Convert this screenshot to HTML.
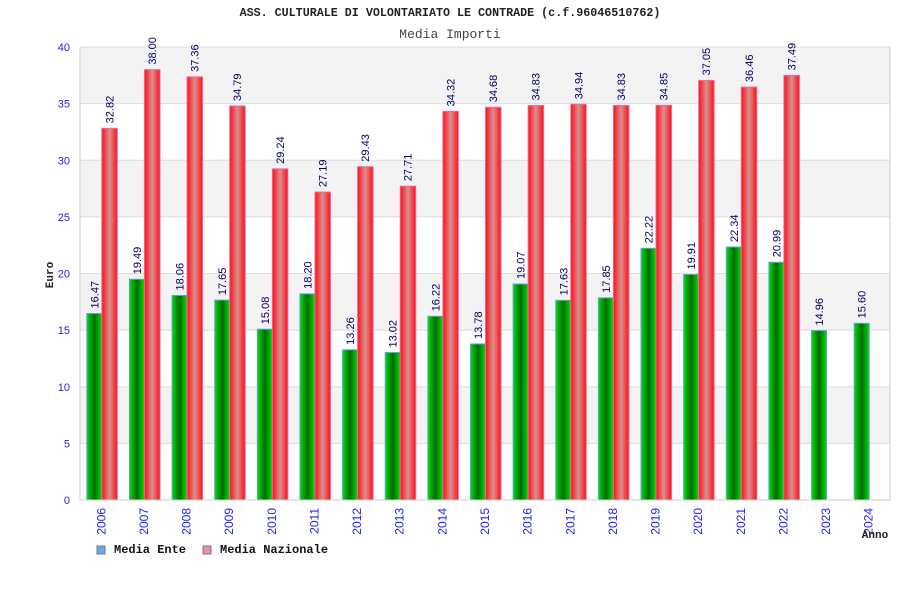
<!DOCTYPE html>
<html><head><meta charset="utf-8"><style>
body{margin:0;background:#fff;width:900px;height:600px;overflow:hidden}
</style></head><body>
<svg id="chart" width="900" height="600" xmlns="http://www.w3.org/2000/svg">
<defs>
<linearGradient id="gG" x1="0" x2="1" y1="0" y2="0"><stop offset="0" stop-color="#00e000"/><stop offset="0.5" stop-color="#006a00"/><stop offset="1" stop-color="#00e000"/></linearGradient>
<linearGradient id="gR" x1="0" x2="1" y1="0" y2="0"><stop offset="0" stop-color="#ff1010"/><stop offset="0.5" stop-color="#d89090"/><stop offset="1" stop-color="#ff1010"/></linearGradient>
</defs>
<text x="450" y="16" text-anchor="middle" font-family="Liberation Mono, monospace" font-weight="bold" font-size="11.7" fill="#222">ASS. CULTURALE DI VOLONTARIATO LE CONTRADE (c.f.96046510762)</text>
<text x="450" y="38" text-anchor="middle" font-family="Liberation Mono, monospace" font-size="13" fill="#444">Media Importi</text>
<g id="grid"></g><g id="bars"></g><g id="axes"></g>
<text transform="translate(53,275) rotate(-90)" text-anchor="middle" font-family="Liberation Mono, monospace" font-weight="bold" font-size="11" fill="#222">Euro</text>
<text x="875" y="538" text-anchor="middle" font-family="Liberation Mono, monospace" font-weight="bold" font-size="11" fill="#222">Anno</text>
<g font-family="Liberation Mono, monospace" font-weight="bold" font-size="12" fill="#111">
<rect x="97" y="546" width="8" height="8" fill="#66aaee" stroke="#777"/>
<text x="114" y="553">Media Ente</text>
<rect x="203" y="546" width="8" height="8" fill="#ee88bb" stroke="#777"/>
<text x="220" y="553">Media Nazionale</text>
</g>
</svg>
<script>
const categories=["2006","2007","2008","2009","2010","2011","2012","2013","2014","2015","2016","2017","2018","2019","2020","2021","2022","2023","2024"];
const enteValues=[16.47,19.49,18.06,17.65,15.08,18.20,13.26,13.02,16.22,13.78,19.07,17.63,17.85,22.22,19.91,22.34,20.99,14.96,15.60];
const nazValues=[32.82,38.00,37.36,34.79,29.24,27.19,29.43,27.71,34.32,34.68,34.83,34.94,34.83,34.85,37.05,36.46,37.49,null,null];
const yTicks=[0,5,10,15,20,25,30,35,40];
const NS="http://www.w3.org/2000/svg";
const L=80,R=890,T=47,B=500,yMax=40;
const y=v=>B-(v/yMax)*(B-T);
const band=(R-L)/categories.length;
const xc=i=>L+band*(i+0.5);
function mk(tag,attrs,parent){const e=document.createElementNS(NS,tag);for(const k in attrs)e.setAttribute(k,attrs[k]);parent.appendChild(e);return e;}
const grid=document.getElementById('grid'),bars=document.getElementById('bars'),axes=document.getElementById('axes');
for(let i=0;i<yTicks.length-1;i++){
  if(i%2===1){const r=mk('rect',{x:L,y:y(yTicks[i+1]),width:R-L,height:y(yTicks[i])-y(yTicks[i+1]),fill:'#f3f3f3'},grid);
  
  }
}
yTicks.forEach(t=>{
  const l=mk('line',{x1:L,x2:R,y1:y(t),y2:y(t),stroke:'#dddddd'},grid);
  
  
  const tx=mk('text',{x:L-10,y:y(t)+4,'text-anchor':'end','font-family':'Liberation Sans, sans-serif','font-size':'11',fill:'#2222ee'},axes);
  tx.textContent=t;
  
  
});
mk('line',{x1:L,x2:L,y1:T,y2:B,stroke:'#ccc'},axes);
mk('line',{x1:R,x2:R,y1:T,y2:B,stroke:'#ccc'},axes);
mk('line',{x1:L,x2:R,y1:B,y2:B,stroke:'#ccc'},axes);
function label(xx,v){
  const t=mk('text',{transform:`translate(${xx+4},${y(v)-5}) rotate(-90)`,'font-family':'Liberation Sans, sans-serif','font-size':'11',fill:'#000066'},bars);
  t.textContent=v.toFixed(2);
  
  
}
categories.forEach((c,i)=>{
  const cx=xc(i);
  const v=enteValues[i];
  if(v!=null){
    const r=mk('rect',{x:cx-14.5,y:y(v),width:15,height:B-y(v),fill:'url(#gG)',stroke:'#6699ee','stroke-width':1},bars);
    
    
    label(cx-7,v);
  }
  const n=nazValues[i];
  if(n!=null){
    const r=mk('rect',{x:cx+0.5,y:y(n),width:15.5,height:B-y(n),fill:'url(#gR)',stroke:'#ee66aa','stroke-width':1},bars);
    
    
    label(cx+8,n);
  }
  const t=mk('text',{transform:`translate(${cx+4},${B+8}) rotate(-90)`,'text-anchor':'end','font-family':'Liberation Sans, sans-serif','font-size':'12',fill:'#2222ee'},axes);
  t.textContent=c;
  
  
});
</script>
</body></html>
